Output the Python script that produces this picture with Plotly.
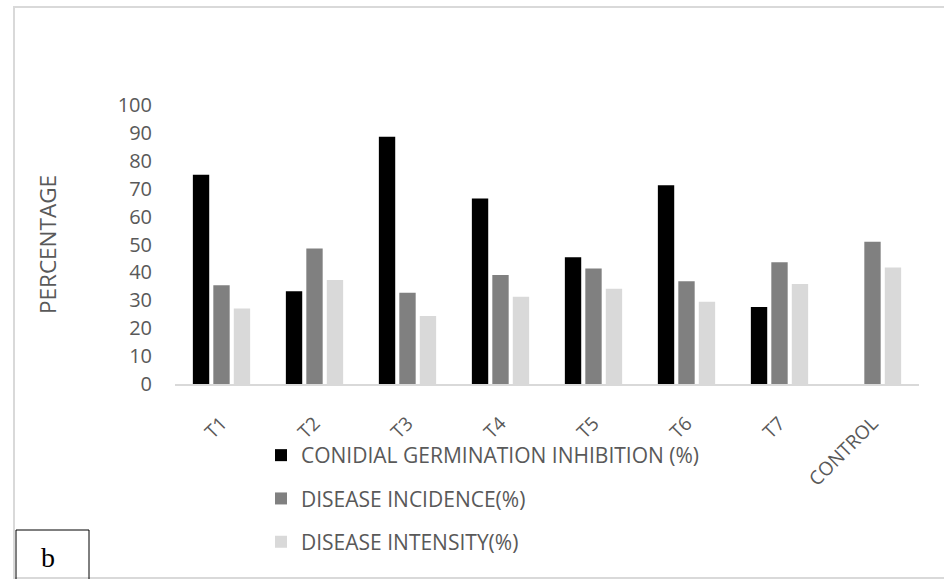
import plotly.graph_objects as go

W, H = 944, 579

categories = ["T1", "T2", "T3", "T4", "T5", "T6", "T7", "CONTROL"]
germination_inhibition = [75.0, 33.2, 88.6, 66.5, 45.4, 71.2, 27.6, 0]
disease_incidence = [35.4, 48.6, 32.7, 39.1, 41.4, 36.8, 43.6, 51.0]
disease_intensity = [27.1, 37.3, 24.4, 31.3, 34.1, 29.5, 35.8, 41.8]
y_ticks = [0, 10, 20, 30, 40, 50, 60, 70, 80, 90, 100]

series_names = ["CONIDIAL GERMINATION INHIBITION (%)", "DISEASE INCIDENCE(%)", "DISEASE INTENSITY(%)"]
series_colors = ["#000000", "#808080", "#d9d9d9"]


def px_x(v):
    return v / W


def px_y(v):
    return (H - v) / H


fig = go.Figure()
for name, vals, col in zip(series_names,
                           [germination_inhibition, disease_incidence, disease_intensity],
                           series_colors):
    fig.add_trace(go.Bar(x=categories, y=vals, name=name, legendgroup=name,
                         marker=dict(color=col, line=dict(width=0))))

fig.update_layout(
    template="none",
    width=W, height=H, autosize=False,
    margin=dict(l=0, r=0, t=0, b=0, pad=0, autoexpand=False),
    paper_bgcolor="white", plot_bgcolor="white",
    barmode="group", bargap=0.34, bargroupgap=0.2,
    showlegend=True,
    legend=dict(x=px_x(261), y=px_y(435), xanchor="left", yanchor="top",
                orientation="v", tracegroupgap=13, bgcolor="rgba(0,0,0,0)", borderwidth=0,
                font=dict(family="Open Sans, sans-serif", size=21, color="#595959")),
    xaxis=dict(domain=[px_x(175), px_x(919)], showgrid=False, zeroline=False, automargin=False,
               showline=True, linecolor="#d9d9d9", linewidth=1.5,
               tickangle=-45, ticks="", ticklabelstandoff=19,
               tickfont=dict(family="Open Sans, sans-serif", size=19, color="#595959")),
    yaxis=dict(domain=[px_y(384), px_y(105)], range=[0, 100], tickvals=y_ticks,
               showgrid=False, zeroline=False, showline=False, automargin=False,
               ticks="", ticklabelstandoff=22,
               tickfont=dict(family="Open Sans, sans-serif", size=20, color="#595959")),
    annotations=[
        dict(text="PERCENTAGE", textangle=-90, x=px_x(47), y=px_y(245),
             xref="paper", yref="paper", showarrow=False, xanchor="center", yanchor="middle",
             font=dict(family="Open Sans, sans-serif", size=22.5, color="#595959")),
        dict(text="b", x=px_x(48), y=px_y(557), xref="paper", yref="paper", showarrow=False,
             xanchor="center", yanchor="middle",
             font=dict(family="Liberation Serif, serif", size=28, color="#000000")),
    ],
    shapes=[
        dict(type="rect", xref="paper", yref="paper", x0=px_x(14), x1=px_x(950),
             y0=px_y(578), y1=px_y(7), line=dict(color="#d9d9d9", width=2)),
        dict(type="rect", xref="paper", yref="paper", x0=px_x(16), x1=px_x(89),
             y0=px_y(585), y1=px_y(530), line=dict(color="#000000", width=1)),
    ],
)

fig.write_html(
    "out.html",
    config={"displayModeBar": False},
    post_script="document.documentElement.style.margin='0';document.documentElement.style.padding='0';"
                "document.documentElement.style.overflow='hidden';"
                "document.body.style.margin='0';document.body.style.padding='0';"
                "document.body.style.overflow='hidden';",
)
